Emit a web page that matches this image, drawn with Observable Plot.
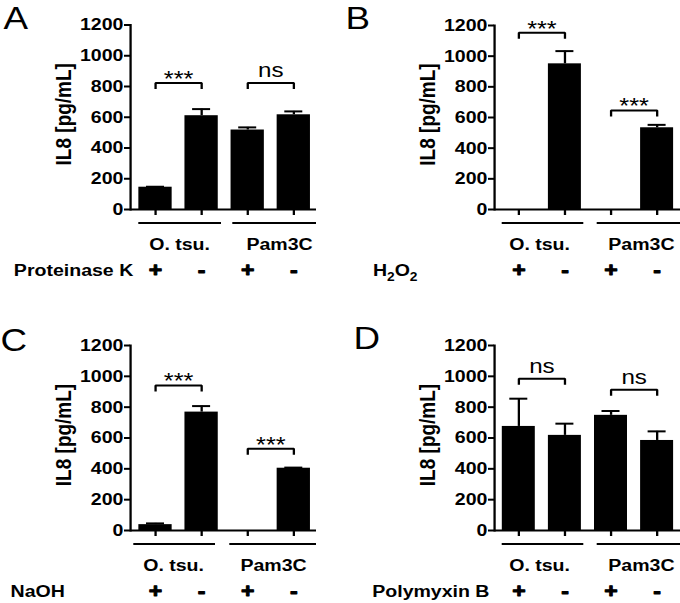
<!DOCTYPE html>
<html><head><meta charset="utf-8">
<script src="https://cdn.jsdelivr.net/npm/d3@7"></script>
<script src="https://cdn.jsdelivr.net/npm/@observablehq/plot@0.6"></script>
<style>
html,body{margin:0;padding:0;background:#fff;}
#fig{position:relative;width:680px;height:603px;overflow:hidden;background:#fff;}
.panel{position:absolute;}
</style></head><body><div id="fig"></div>
<script>
// ---------- data ----------
const conditions = ["O. tsu. +", "O. tsu. -", "Pam3C +", "Pam3C -"];
const signs = ["+", "-", "+", "-"];
const groupNames = ["O. tsu.", "Pam3C"];
const yTicks = [0, 200, 400, 600, 800, 1000, 1200];
const yLabel = "IL8 [pg/mL]";
const panelLetters = ["A", "B", "C", "D"];
const treatments = ["Proteinase K", "H₂O₂", "NaOH", "Polymyxin B"];

const meansA = [145, 610, 517, 616];
const semA   = [3, 43, 17, 22];
const meansB = [0, 950, 0, 533];
const semB   = [0, 83, 0, 19];
const meansC = [38, 768, 0, 404];
const semC   = [8, 39, 0, 4];
const meansD = [675, 617, 747, 584];
const semD   = [180, 76, 28, 59];

const bracketPairs = [[0, 1], [2, 3]];
const bracketYA = [822, 822];  const bracketLabelA = ["***", "ns"];
const bracketYB = [1152, 646]; const bracketLabelB = ["***", "***"];
const bracketYC = [941, 530];  const bracketLabelC = ["***", "***"];
const bracketYD = [985, 913];  const bracketLabelD = ["ns", "ns"];

// ---------- layout (screen px) ----------
const S = 1.15; // horizontal stretch of the original figure
const FONT = "'Liberation Sans', Arial, Helvetica, sans-serif";
const colL = {axisX: 130, xEnd: 316, c1: 155, step: 46.1, bw: 33.3};
const colR = {axisX: 154, xEnd: 340, c1: 178.3, step: 46.1, bw: 33};
const layouts = [
  {...colL, left: 0, top: 0, H: 300, yTop: 24.5, yZero: 209, letter: [3, 28], treatX: 13.3,
   groupCx: [179, 279], groupLines: [[138.3, 221], [232.3, 316]]},
  {...colR, left: 340, top: 0, H: 300, yTop: 25, yZero: 209, letter: [5, 28], treatX: 32.3,
   groupCx: [199, 300.8], groupLines: [[161.7, 243.3], [256.7, 340]]},
  {...colL, left: 0, top: 300, H: 303, yTop: 45, yZero: 230, letter: [0, 50], treatX: 10,
   groupCx: [173, 273], groupLines: [[133.3, 215], [229.3, 316]]},
  {...colR, left: 340, top: 300, H: 303, yTop: 45, yZero: 230, letter: [13, 48], treatX: 31.7,
   groupCx: [199, 300.8], groupLines: [[161.7, 243.3], [256.7, 340]]}
];

// turn unicode subscript digits into real subscript tspans
function applySubscripts(svg) {
  const NS = "http://www.w3.org/2000/svg";
  svg.querySelectorAll("text").forEach(t => {
    const str = t.textContent;
    if (!/[\u2080-\u2089]/.test(str)) return;
    t.textContent = "";
    let inSub = false;
    for (const ch of str) {
      const code = ch.codePointAt(0);
      const isSub = code >= 0x2080 && code <= 0x2089;
      const ts = document.createElementNS(NS, "tspan");
      ts.textContent = isSub ? String(code - 0x2080) : ch;
      if (isSub) ts.setAttribute("font-size", "12");
      if (isSub && !inSub) ts.setAttribute("dy", "5");
      if (!isSub && inSub) ts.setAttribute("dy", "-5");
      inSub = isSub;
      t.appendChild(ts);
    }
  });
}

function panel(k, means, sems, bY, bLab) {
  const L = layouts[k];
  const PW = 340;
  const W = PW / S;
  const u = (px) => px / S;
  const centers = conditions.map((c, i) => L.c1 + i * L.step);
  const bars = conditions.map((c, i) => ({cond: c, value: means[i], sem: sems[i], top: means[i] + sems[i]}));
  const errs = bars.filter(d => d.sem > 0);
  const unitsPerPx = 1200 / (L.yZero - L.yTop);
  const legPx = 6;
  const bracketPts = [];
  bracketPairs.forEach(([a, b], j) => {
    const y = bY[j], low = y - legPx * unitsPerPx;
    bracketPts.push(
      {id: j, cond: conditions[a], y: low},
      {id: j, cond: conditions[a], y: y},
      {id: j, cond: conditions[b], y: y},
      {id: j, cond: conditions[b], y: low});
  });
  const brackets = bracketPairs.map(([a, b], j) => ({cond: conditions[a], y: bY[j], label: bLab[j]}));
  const groups = bracketPairs.map(([a, b], j) => ({a: conditions[a], b: conditions[b], name: groupNames[j]}));

  const marks = [
    Plot.barY(bars, {x: "cond", y: "value", fill: "black"}),
    Plot.ruleX(errs, {x: "cond", y1: "value", y2: "top", stroke: "black", strokeWidth: 2}),
    Plot.tickY(errs, {x: "cond", y: "top", stroke: "black", strokeWidth: 2, inset: u((L.bw - 18) / 2)}),
    Plot.line(bracketPts, {x: "cond", y: "y", z: "id", stroke: "black", strokeWidth: 2,
      strokeLinejoin: "miter", strokeLinecap: "butt"}),
    Plot.text(brackets.filter(d => d.label === "***"), {x: "cond", y: "y", text: "label",
      dx: u(L.step / 2), dy: 3, lineAnchor: "bottom", fontSize: 22, fill: "black"}),
    Plot.text(brackets.filter(d => d.label === "ns"), {x: "cond", y: "y", text: "label",
      dx: u(L.step / 2), dy: -6, lineAnchor: "bottom", fontSize: 21, fill: "black"}),
    ...groups.map((g, j) => Plot.ruleY([g], {y: 0, x1: "a", x2: "b", dy: 13.5, stroke: "black", strokeWidth: 2,
      insetLeft: u(L.groupLines[j][0] - (centers[2 * j] - L.bw / 2)),
      insetRight: u((centers[2 * j + 1] + L.bw / 2) - L.groupLines[j][1])})),
    ...groups.map((g, j) => Plot.text([g], {x: "a", text: "name", frameAnchor: "bottom",
      dx: u(L.groupCx[j] - centers[2 * j]), dy: 35.5, textAnchor: "middle", lineAnchor: "middle",
      fontSize: 17, fontWeight: "bold", fill: "black"})),
    Plot.text(conditions, {x: d => d, text: (d, i) => signs[i], frameAnchor: "bottom", dy: 61.5,
      textAnchor: "middle", lineAnchor: "middle", fontSize: 20, fontWeight: "bold", fill: "black",
      stroke: "black", strokeWidth: 1}),
    Plot.text([treatments[k]], {frameAnchor: "bottom-left", dx: u(L.treatX - L.axisX), dy: 61.5,
      textAnchor: "start", lineAnchor: "middle", fontSize: 17, fontWeight: "bold", fill: "black"}),
    Plot.text([yLabel], {frameAnchor: "left", rotate: -90, dx: u(-67), dy: -3,
      textAnchor: "middle", lineAnchor: "middle", fontSize: 19, fontWeight: "bold", fill: "black"}),
    Plot.text([panelLetters[k]], {frameAnchor: "top-left", dx: u(L.letter[0] - L.axisX), dy: L.letter[1] - L.yTop,
      textAnchor: "start", lineAnchor: "bottom", fontSize: 32, fill: "black"}),
    Plot.axisY({ticks: yTicks, tickFormat: d => String(d), tickSize: u(6), tickPadding: 1,
      fontSize: 17, fontWeight: "bold", strokeWidth: 2, label: null, color: "black"}),
    Plot.axisX({tickSize: 6, tickFormat: () => "", strokeWidth: 2, label: null}),
    Plot.frame({anchor: "left", strokeWidth: 2, stroke: "black"}),
    Plot.ruleY([0], {stroke: "black", strokeWidth: 2})
  ];

  const svg = Plot.plot({
    width: W, height: L.H,
    marginLeft: u(L.axisX), marginRight: u(PW - L.xEnd),
    marginTop: L.yTop, marginBottom: L.H - L.yZero,
    x: {type: "band", domain: conditions,
        range: [u(centers[0] - L.bw / 2), u(centers[3] + L.bw / 2)],
        paddingInner: (L.step - L.bw) / L.step, paddingOuter: 0, align: 0.5, round: false},
    y: {domain: [0, 1200]},
    style: {fontFamily: FONT, background: "white", color: "black", overflow: "visible"},
    marks
  });
  applySubscripts(svg);
  svg.setAttribute("width", PW);
  svg.setAttribute("height", L.H);
  svg.setAttribute("preserveAspectRatio", "none");
  svg.style.width = PW + "px";
  svg.style.height = L.H + "px";
  svg.style.maxWidth = "none";
  const wrap = document.createElement("div");
  wrap.className = "panel";
  wrap.style.left = L.left + "px";
  wrap.style.top = L.top + "px";
  wrap.appendChild(svg);
  document.getElementById("fig").appendChild(wrap);
}

panel(0, meansA, semA, bracketYA, bracketLabelA);
panel(1, meansB, semB, bracketYB, bracketLabelB);
panel(2, meansC, semC, bracketYC, bracketLabelC);
panel(3, meansD, semD, bracketYD, bracketLabelD);
</script></body></html>
